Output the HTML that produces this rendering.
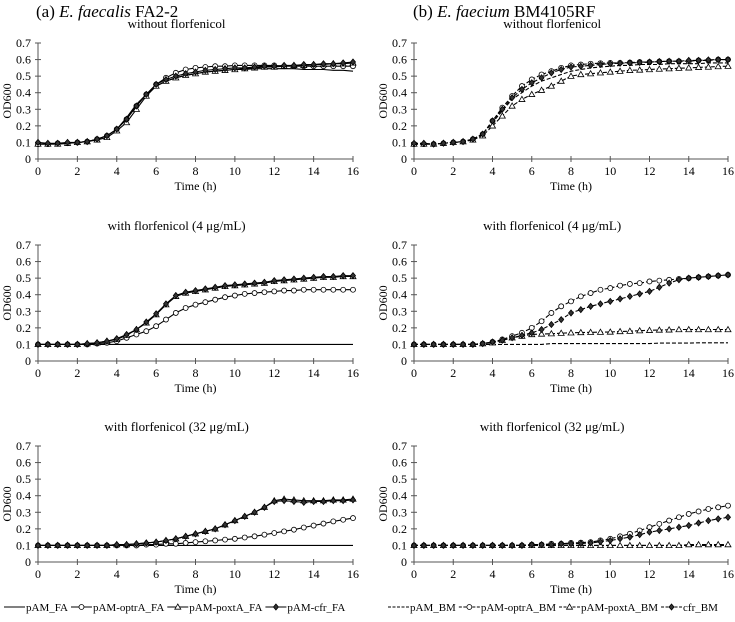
<!DOCTYPE html>
<html><head><meta charset="utf-8">
<style>
html,body{margin:0;padding:0;background:#fff;}
svg{display:block;font-family:"Liberation Serif",serif;}
</style></head>
<body>
<svg id="chart" width="735" height="622" viewBox="0 0 735 622" xmlns="http://www.w3.org/2000/svg" font-family="Liberation Serif, serif">
<text x="36" y="17" font-size="17">(a) <tspan font-style="italic">E. faecalis</tspan> FA2-2</text>
<text x="413" y="17" font-size="17">(b) <tspan font-style="italic">E. faecium</tspan> BM4105RF</text>
<g id="plots"></g>
<g id="legend"></g>
</svg>
<script>
const times = [0,0.5,1,1.5,2,2.5,3,3.5,4,4.5,5,5.5,6,6.5,7,7.5,8,8.5,9,9.5,10,10.5,11,11.5,12,12.5,13,13.5,14,14.5,15,15.5,16];
const xTicks = [0,2,4,6,8,10,12,14,16];
const yTicks = [0,0.1,0.2,0.3,0.4,0.5,0.6,0.7];
const yTickLabels = ["0","0.1","0.2","0.3","0.4","0.5","0.6","0.7"];
const panelTitles = ["without florfenicol","with florfenicol (4 \u03bcg/mL)","with florfenicol (32 \u03bcg/mL)"];
const seriesNamesFA = ["pAM_FA","pAM-optrA_FA","pAM-poxtA_FA","pAM-cfr_FA"];
const seriesNamesBM = ["pAM_BM","pAM-optrA_BM","pAM-poxtA_BM","cfr_BM"];

// Panel a: E. faecalis
const a0_pAM   = [0.09,0.09,0.09,0.095,0.10,0.105,0.12,0.14,0.18,0.25,0.33,0.39,0.44,0.47,0.49,0.505,0.515,0.525,0.53,0.535,0.54,0.54,0.545,0.545,0.545,0.545,0.545,0.54,0.54,0.54,0.535,0.535,0.53];
const a0_optrA = [0.09,0.09,0.095,0.095,0.10,0.105,0.12,0.14,0.18,0.24,0.32,0.39,0.45,0.49,0.52,0.54,0.55,0.555,0.56,0.56,0.565,0.565,0.565,0.565,0.565,0.56,0.56,0.56,0.56,0.56,0.56,0.56,0.56];
const a0_poxtA = [0.09,0.09,0.09,0.095,0.10,0.105,0.115,0.13,0.17,0.22,0.30,0.38,0.44,0.47,0.49,0.505,0.515,0.525,0.53,0.535,0.54,0.545,0.55,0.555,0.555,0.56,0.565,0.565,0.57,0.57,0.575,0.575,0.58];
const a0_cfr   = [0.10,0.095,0.095,0.10,0.10,0.105,0.12,0.14,0.18,0.24,0.32,0.39,0.45,0.48,0.50,0.515,0.525,0.535,0.54,0.545,0.55,0.55,0.555,0.56,0.56,0.565,0.565,0.57,0.57,0.575,0.575,0.58,0.585];

const a1_pAM   = [0.10,0.10,0.10,0.10,0.10,0.10,0.10,0.10,0.10,0.10,0.10,0.10,0.10,0.10,0.10,0.10,0.10,0.10,0.10,0.10,0.10,0.10,0.10,0.10,0.10,0.10,0.10,0.10,0.10,0.10,0.10,0.10,0.10];
const a1_optrA = [0.10,0.10,0.10,0.10,0.10,0.10,0.105,0.11,0.12,0.14,0.16,0.18,0.21,0.25,0.29,0.32,0.34,0.355,0.37,0.385,0.395,0.405,0.41,0.415,0.42,0.425,0.425,0.43,0.43,0.43,0.43,0.43,0.43];
const a1_poxtA = [0.10,0.10,0.10,0.10,0.10,0.105,0.11,0.12,0.13,0.155,0.19,0.23,0.28,0.34,0.39,0.41,0.42,0.43,0.44,0.45,0.455,0.46,0.465,0.47,0.48,0.485,0.49,0.495,0.50,0.505,0.505,0.51,0.51];
const a1_cfr   = [0.10,0.10,0.10,0.10,0.10,0.105,0.11,0.12,0.135,0.16,0.19,0.235,0.285,0.345,0.395,0.415,0.425,0.435,0.445,0.455,0.46,0.465,0.47,0.475,0.485,0.49,0.495,0.50,0.505,0.51,0.51,0.515,0.515];

const a2_pAM   = [0.10,0.10,0.10,0.10,0.10,0.10,0.10,0.10,0.10,0.10,0.10,0.10,0.10,0.10,0.10,0.10,0.10,0.10,0.10,0.10,0.10,0.10,0.10,0.10,0.10,0.10,0.10,0.10,0.10,0.10,0.10,0.10,0.10];
const a2_optrA = [0.10,0.10,0.10,0.10,0.10,0.10,0.10,0.10,0.10,0.10,0.10,0.105,0.105,0.11,0.11,0.115,0.12,0.125,0.13,0.135,0.14,0.148,0.155,0.165,0.175,0.185,0.195,0.208,0.22,0.232,0.245,0.255,0.265];
const a2_poxtA = [0.10,0.10,0.10,0.10,0.10,0.10,0.10,0.10,0.105,0.105,0.11,0.115,0.12,0.13,0.14,0.155,0.17,0.185,0.20,0.225,0.25,0.275,0.30,0.33,0.37,0.38,0.375,0.37,0.37,0.37,0.375,0.375,0.38];
const a2_cfr   = [0.10,0.10,0.10,0.10,0.10,0.10,0.10,0.10,0.105,0.105,0.11,0.115,0.12,0.13,0.14,0.155,0.17,0.185,0.20,0.225,0.25,0.275,0.30,0.33,0.365,0.37,0.365,0.36,0.365,0.365,0.37,0.37,0.375];

// Panel b: E. faecium
const b0_pAM   = [0.09,0.09,0.09,0.095,0.10,0.105,0.12,0.15,0.22,0.29,0.36,0.40,0.44,0.47,0.49,0.51,0.53,0.54,0.55,0.555,0.56,0.565,0.565,0.57,0.57,0.57,0.575,0.575,0.575,0.575,0.58,0.58,0.58];
const b0_optrA = [0.09,0.09,0.09,0.095,0.10,0.105,0.12,0.15,0.23,0.31,0.38,0.44,0.48,0.51,0.53,0.55,0.565,0.57,0.575,0.578,0.58,0.58,0.582,0.585,0.585,0.588,0.59,0.59,0.59,0.595,0.595,0.60,0.60];
const b0_poxtA = [0.09,0.09,0.09,0.095,0.10,0.105,0.115,0.14,0.20,0.26,0.32,0.36,0.39,0.415,0.44,0.47,0.50,0.51,0.515,0.52,0.525,0.53,0.535,0.537,0.54,0.543,0.545,0.548,0.55,0.553,0.555,0.558,0.56];
const b0_cfr   = [0.095,0.095,0.09,0.095,0.10,0.105,0.12,0.15,0.23,0.30,0.37,0.42,0.46,0.49,0.52,0.54,0.555,0.56,0.565,0.57,0.575,0.578,0.58,0.582,0.585,0.588,0.59,0.59,0.595,0.595,0.598,0.60,0.60];

const b1_pAM   = [0.10,0.10,0.10,0.10,0.10,0.10,0.10,0.10,0.10,0.10,0.10,0.10,0.10,0.10,0.105,0.105,0.105,0.105,0.105,0.105,0.105,0.105,0.105,0.105,0.105,0.108,0.108,0.108,0.108,0.11,0.11,0.11,0.11];
const b1_optrA = [0.10,0.10,0.10,0.10,0.10,0.10,0.10,0.105,0.115,0.13,0.15,0.17,0.20,0.24,0.29,0.33,0.36,0.39,0.41,0.43,0.44,0.455,0.465,0.47,0.48,0.485,0.49,0.495,0.50,0.505,0.51,0.515,0.52];
const b1_poxtA = [0.10,0.10,0.10,0.10,0.10,0.10,0.10,0.105,0.11,0.125,0.14,0.15,0.16,0.163,0.165,0.168,0.17,0.172,0.173,0.174,0.175,0.178,0.18,0.183,0.185,0.187,0.188,0.19,0.19,0.19,0.19,0.19,0.19];
const b1_cfr   = [0.10,0.10,0.10,0.10,0.10,0.10,0.10,0.105,0.115,0.125,0.14,0.155,0.17,0.19,0.22,0.25,0.29,0.31,0.33,0.345,0.36,0.375,0.39,0.405,0.42,0.445,0.47,0.49,0.50,0.505,0.51,0.515,0.52];

const b2_pAM   = [0.10,0.10,0.10,0.10,0.10,0.10,0.10,0.10,0.10,0.10,0.10,0.10,0.10,0.10,0.10,0.10,0.10,0.10,0.10,0.10,0.10,0.10,0.10,0.10,0.10,0.10,0.10,0.10,0.10,0.10,0.10,0.10,0.10];
const b2_optrA = [0.10,0.10,0.10,0.10,0.10,0.10,0.10,0.10,0.10,0.10,0.10,0.10,0.105,0.105,0.11,0.11,0.115,0.117,0.12,0.13,0.14,0.155,0.17,0.19,0.21,0.23,0.25,0.27,0.29,0.305,0.32,0.33,0.34];
const b2_poxtA = [0.10,0.10,0.10,0.10,0.10,0.10,0.10,0.10,0.10,0.10,0.10,0.10,0.10,0.10,0.10,0.10,0.10,0.10,0.10,0.10,0.10,0.10,0.10,0.10,0.10,0.10,0.10,0.10,0.105,0.105,0.105,0.105,0.105];
const b2_cfr   = [0.10,0.10,0.10,0.10,0.10,0.10,0.10,0.10,0.10,0.10,0.10,0.10,0.105,0.105,0.105,0.11,0.11,0.112,0.115,0.122,0.13,0.14,0.15,0.165,0.18,0.19,0.20,0.21,0.22,0.235,0.25,0.26,0.27];

const NS = "http://www.w3.org/2000/svg";
function mk(tag, attrs, parent){
  const e = document.createElementNS(NS, tag);
  for (const k in attrs) e.setAttribute(k, attrs[k]);
  parent.appendChild(e);
  return e;
}
const plots = document.getElementById('plots');
const rowY0 = [159, 361, 562];
const colX = [[38,353],[414,728]];
const panelData = [
  [[a0_pAM,a0_optrA,a0_poxtA,a0_cfr],[a1_pAM,a1_optrA,a1_poxtA,a1_cfr],[a2_pAM,a2_optrA,a2_poxtA,a2_cfr]],
  [[b0_pAM,b0_optrA,b0_poxtA,b0_cfr],[b1_pAM,b1_optrA,b1_poxtA,b1_cfr],[b2_pAM,b2_optrA,b2_poxtA,b2_cfr]]
];
const markerKinds = ["none","circle","triangle","diamond"];

function drawMarker(kind, x, y, g){
  let m;
  if (kind === "circle") {
    m = mk('circle',{cx:x,cy:y,r:2.5,fill:'#fff',stroke:'#000','stroke-width':0.8},g);
  } else if (kind === "triangle") {
    m = mk('path',{d:`M${x},${y-3}L${x+3},${y+2.2}L${x-3},${y+2.2}Z`,fill:'#fff',stroke:'#000','stroke-width':0.8},g);
  } else if (kind === "diamond") {
    m = mk('path',{d:`M${x},${y-3}L${x+2.5},${y}L${x},${y+3}L${x-2.5},${y}Z`,fill:'#333',stroke:'#000','stroke-width':0.8},g);
  }
  if (m) {
    
    
  }
}

for (let c = 0; c < 2; c++) {
  for (let r = 0; r < 3; r++) {
    const x0 = colX[c][0], x1 = colX[c][1], y0 = rowY0[r], y1 = y0 - 116;
    const xs = t => x0 + (t / 16) * (x1 - x0);
    const ys = v => y0 - (v / 0.7) * (y0 - y1);
    const g = mk('g', {}, plots);
    
    
    const title = mk('text', {x:x0 + (x1-x0)*0.44, y:y1-15, 'font-size':13, 'text-anchor':'middle'}, g);
    title.textContent = panelTitles[r];
    
    
    const ya = mk('line', {x1:x0, y1:y0, x2:x0, y2:y1, stroke:'#555', 'stroke-width':1}, g);
    
    
    const xa = mk('line', {x1:x0, y1:y0, x2:x1, y2:y0, stroke:'#555', 'stroke-width':1}, g);
    
    
    yTicks.forEach((v, i) => {
      mk('line', {x1:x0-3, y1:ys(v), x2:x0+3, y2:ys(v), stroke:'#555'}, g);
      const t = mk('text', {x:x0-7, y:ys(v)+4, 'font-size':12, 'text-anchor':'end'}, g);
      t.textContent = yTickLabels[i];
      
      
    });
    xTicks.forEach(v => {
      mk('line', {x1:xs(v), y1:y0-3, x2:xs(v), y2:y0+3, stroke:'#555'}, g);
      const t = mk('text', {x:xs(v), y:y0+16, 'font-size':12, 'text-anchor':'middle'}, g);
      t.textContent = String(v);
      
      
    });
    const xl = mk('text', {x:(x0+x1)/2, y:y0+31, 'font-size':12, 'text-anchor':'middle'}, g);
    xl.textContent = "Time (h)";
    
    
    const yl = mk('text', {x:0, y:0, 'font-size':12, 'text-anchor':'middle', transform:`translate(${x0-27},${(y0+y1)/2}) rotate(-90)`}, g);
    yl.textContent = "OD600";
    
    
    panelData[c][r].forEach((arr, si) => {
      const sg = mk('g', {}, g);
      
      
      const d = arr.map((v, i) => (i ? 'L' : 'M') + xs(times[i]).toFixed(1) + ',' + ys(v).toFixed(1)).join('');
      const p = mk('path', {d:d, fill:'none', stroke:'#000', 'stroke-width':1.1}, sg);
      if (c === 1) p.setAttribute('stroke-dasharray', '4,2');
      
      
      arr.forEach((v, i) => drawMarker(markerKinds[si], xs(times[i]), ys(v), sg));
    });
  }
}

// legend
const legend = document.getElementById('legend');
function legendGroup(names, startX, dashed){
  let x = startX;
  names.forEach((n, i) => {
    const g = mk('g', {}, legend);
    
    
    const ln = mk('line', {x1:x, y1:607, x2:x+21, y2:607, stroke:'#000', 'stroke-width':1.1}, g);
    if (dashed) ln.setAttribute('stroke-dasharray', '3,1.5');
    drawMarker(markerKinds[i], x+10.5, 607, g);
    const t = mk('text', {x:x+22, y:611, 'font-size':11}, g);
    t.textContent = n;
    x += 22 + t.getComputedTextLength() + 3;
  });
}
legendGroup(seriesNamesFA, 4, false);
legendGroup(seriesNamesBM, 388, true);
</script>
</body></html>
